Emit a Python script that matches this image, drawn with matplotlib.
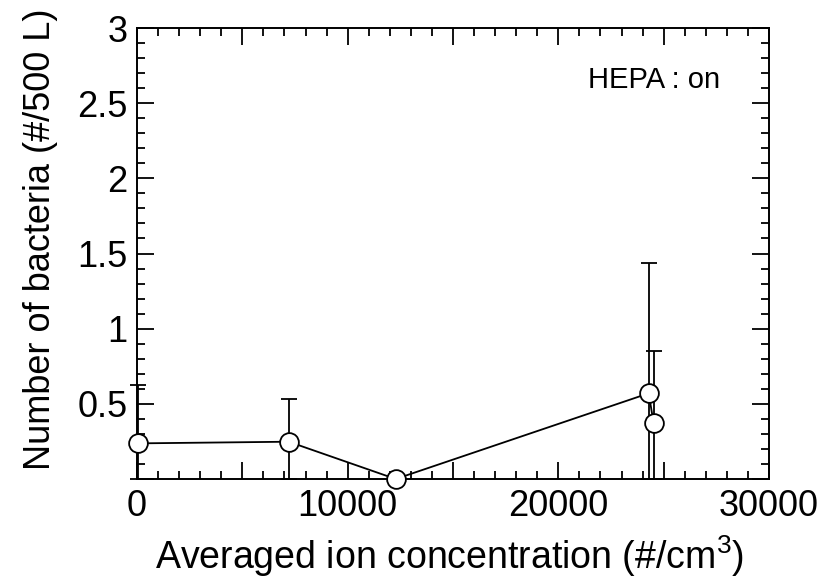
import matplotlib
matplotlib.use("Agg")
import matplotlib.pyplot as plt
from matplotlib.ticker import MultipleLocator, FuncFormatter
import numpy as np

plt.rcParams['font.family'] = ['Liberation Sans', 'DejaVu Sans']
plt.rcParams['mathtext.fontset'] = 'custom'
plt.rcParams['mathtext.rm'] = 'Liberation Sans'

# Data
ion_conc = [50, 7200, 12280, 24290, 24520]          # #/cm3
bacteria = [0.237, 0.248, 0.0, 0.570, 0.374]        # #/500 L
bact_err = [0.39, 0.284, 0.0, 0.868, 0.479]

x_label = "Averaged ion concentration (#/cm$^{3}$)"
y_label = "Number of bacteria (#/500 L)"
note = "HEPA : on"

fig = plt.figure(figsize=(8.27, 5.81), dpi=100)
ax = fig.add_axes([137/827, 1-479/581, (769-137)/827, (479-28)/581])

x = np.array(ion_conc)
y = np.array(bacteria)
e = np.array(bact_err)
lower = np.minimum(e, y)

ax.plot(x, y, color='black', lw=1.3, zorder=2, clip_on=False)
eb = ax.errorbar(x, y, yerr=[lower, e], fmt='none', ecolor='black',
                 elinewidth=1.3, capsize=6, capthick=1.3, zorder=1)
for art in eb.lines[1]:
    art.set_clip_on(False)
for art in eb.lines[2]:
    art.set_clip_on(False)
ax.plot(x, y, linestyle='none', marker='o', ms=13.5, mfc='white', mec='black',
        mew=1.3, zorder=3, clip_on=False)

ax.set_xlim(0, 30000)
ax.set_ylim(0, 3)
ax.xaxis.set_major_locator(MultipleLocator(5000))
ax.xaxis.set_minor_locator(MultipleLocator(1000))
ax.yaxis.set_major_locator(MultipleLocator(0.5))
ax.yaxis.set_minor_locator(MultipleLocator(0.1))
ax.xaxis.set_major_formatter(FuncFormatter(lambda v, p: f"{int(v)}" if v % 10000 == 0 else ""))
ax.yaxis.set_major_formatter(FuncFormatter(lambda v, p: "" if v == 0 else f"{v:g}"))

ax.tick_params(which='both', direction='in', top=True, right=True, width=1.3,
               labelsize=26, colors='black')
ax.tick_params(which='major', length=12, pad=7)
ax.tick_params(which='minor', length=6)
for s in ax.spines.values():
    s.set_linewidth(1.4)

ax.set_xlabel(x_label, fontsize=27)
ax.set_ylabel(y_label, fontsize=26)
ax.xaxis.label.set_va('center')
ax.yaxis.label.set_va('center')
ax.xaxis.set_label_coords(0.495, -0.171)
ax.yaxis.set_label_coords(-0.153, 0.532)

ax.text(0.922, 0.885, note, transform=ax.transAxes, fontsize=21,
        ha='right', va='center')

fig.savefig("out.png", dpi=100)
